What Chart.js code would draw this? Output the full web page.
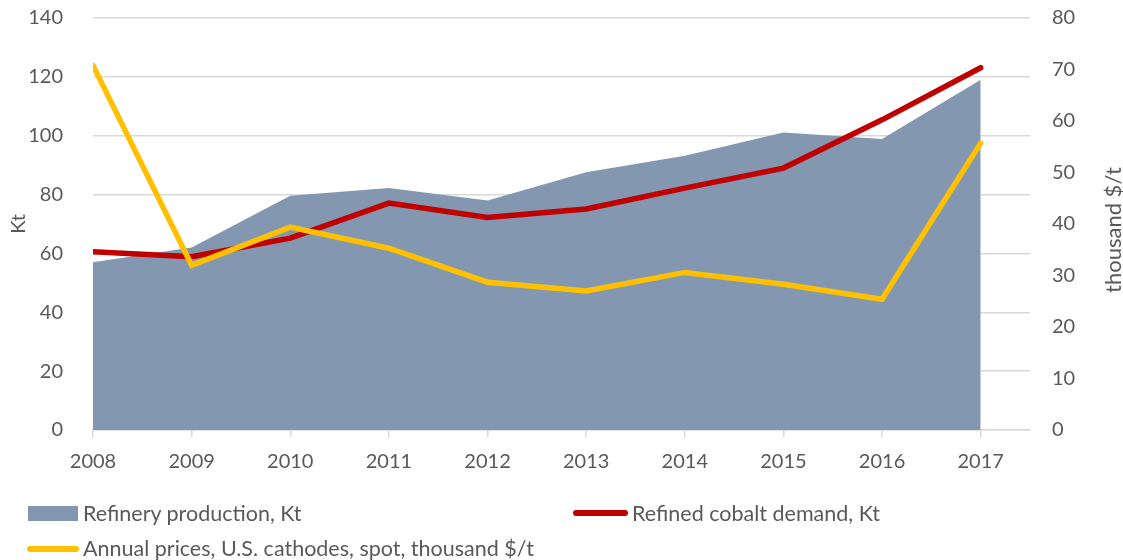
<!DOCTYPE html>
<html lang="en">
<head>
    <meta charset="UTF-8">
    <title>Cobalt</title>
    <script src="https://cdn.jsdelivr.net/npm/chart.js@4.4.9/dist/chart.umd.min.js"></script>
    <style>
        body { margin: 0; background: #fff; font-family: Lato, sans-serif; }
        .wrap { position: relative; width: 1123px; height: 560px; }
        .leg { position: absolute; font-size: 21.5px; color: #595959; line-height: 26px; white-space: nowrap; }
        .sw { position: absolute; }
    </style>
</head>
<body>
<div class="wrap">
    <canvas id="myChartCanvas"></canvas>
    <div class="sw" style="left:28px;top:506px;width:50px;height:15px;background:#8497b0"></div>
    <div class="leg" style="left:83px;top:500px">Refinery production, Kt</div>
    <div class="sw" style="left:573px;top:510px;width:55px;height:6px;border-radius:3px;background:#c00000"></div>
    <div class="leg" style="left:632px;top:500px">Refined cobalt demand, Kt</div>
    <div class="sw" style="left:27px;top:546px;width:52px;height:6px;border-radius:3px;background:#ffc000"></div>
    <div class="leg" style="left:83px;top:535px">Annual prices, U.S. cathodes, spot, thousand $/t</div>
</div>
<script>
    // dados
    var anos = [2008, 2009, 2010, 2011, 2012, 2013, 2014, 2015, 2016, 2017]
    var producao = [57.0, 62.0, 79.6, 82.2, 78.0, 87.6, 93.2, 101.1, 98.9, 119.0]
    var demanda = [60.6, 58.9, 65.2, 77.1, 72.2, 75.1, 82.2, 89.0, 105.4, 123.1]
    var precos = [70.8, 32.0, 39.4, 35.3, 28.7, 27.0, 30.6, 28.3, 25.4, 55.7]
    var ticksKt = [0, 20, 40, 60, 80, 100, 120, 140]
    var ticksPreco = [0, 10, 20, 30, 40, 50, 60, 70, 80]

    var corTexto = '#595959'
    var corGrade = '#d9d9d9'
    var fonte = { family: 'Lato', size: 20 }

    function pares(valores) {
        return anos.map(function (a, i) { return { x: a, y: valores[i] } })
    }

    // título do eixo direito (lido de baixo para cima)
    const tituloDireita = {
        id: 'tituloDireita',
        afterDraw(chart) {
            const ctx = chart.ctx
            ctx.save()
            ctx.translate(1114, 230)
            ctx.rotate(-Math.PI / 2)
            ctx.font = '22px Lato'
            ctx.fillStyle = corTexto
            ctx.textAlign = 'center'
            ctx.textBaseline = 'middle'
            ctx.fillText('thousand $/t', 0, 0)
            ctx.restore()
        }
    }

    const config = {
        type: 'line',
        data: {
            datasets: [
                {
                    label: 'Annual prices, U.S. cathodes, spot, thousand $/t',
                    data: pares(precos),
                    yAxisID: 'y1',
                    borderColor: '#ffc000',
                    borderWidth: 5.5,
                    borderCapStyle: 'round',
                    pointRadius: 0,
                    tension: 0,
                    fill: false,
                    order: 1
                },
                {
                    label: 'Refined cobalt demand, Kt',
                    data: pares(demanda),
                    yAxisID: 'y',
                    borderColor: '#c00000',
                    borderWidth: 5.5,
                    borderCapStyle: 'round',
                    pointRadius: 0,
                    tension: 0,
                    fill: false,
                    order: 2
                },
                {
                    label: 'Refinery production, Kt',
                    data: pares(producao),
                    yAxisID: 'y',
                    borderWidth: 0,
                    borderColor: 'rgba(0,0,0,0)',
                    backgroundColor: '#8497b0',
                    pointRadius: 0,
                    tension: 0,
                    fill: 'origin',
                    order: 3
                }
            ]
        },
        options: {
            responsive: true,
            maintainAspectRatio: false,
            animation: false,
            layout: { padding: { top: 18, bottom: 0, left: 0, right: 0 } },
            plugins: {
                legend: { display: false },
                tooltip: { enabled: false }
            },
            scales: {
                x: {
                    type: 'linear',
                    min: 2008,
                    max: 2017.5,
                    afterBuildTicks: function (scale) {
                        scale.ticks = anos.map(function (a) { return { value: a } })
                    },
                    afterFit: function (scale) { scale.height = 130 },
                    grid: { drawOnChartArea: false, drawTicks: true, tickLength: 7, color: corGrade, lineWidth: 1.5 },
                    border: { display: true, color: corGrade, width: 1.5 },
                    ticks: {
                        color: corTexto, font: fonte, padding: 13, maxRotation: 0,
                        callback: function (v) { return String(v) }
                    }
                },
                y: {
                    position: 'left',
                    min: 0,
                    max: 140,
                    afterBuildTicks: function (scale) {
                        scale.ticks = ticksKt.map(function (v) { return { value: v } })
                    },
                    afterFit: function (scale) { scale.width = 93 },
                    // marcas invisíveis fazem o espaço entre rótulo e gráfico
                    grid: { color: corGrade, lineWidth: 1.5, drawTicks: true, tickLength: 30, tickColor: 'rgba(0,0,0,0)' },
                    border: { display: false },
                    ticks: { color: corTexto, font: fonte, padding: 0 },
                    title: { display: true, text: 'Kt', color: corTexto, font: fonte, padding: { top: 7, bottom: 0 } }
                },
                y1: {
                    position: 'right',
                    min: 0,
                    max: 80,
                    afterBuildTicks: function (scale) {
                        scale.ticks = ticksPreco.map(function (v) { return { value: v } })
                    },
                    afterFit: function (scale) { scale.width = 93 },
                    grid: { drawOnChartArea: false, drawTicks: true, tickLength: 22, tickColor: 'rgba(0,0,0,0)' },
                    border: { display: false },
                    ticks: { color: corTexto, font: fonte, padding: 0 }
                }
            }
        },
        plugins: [tituloDireita]
    };

    let myChart = new Chart(document.getElementById('myChartCanvas'), config);
</script>
</body>
</html>
